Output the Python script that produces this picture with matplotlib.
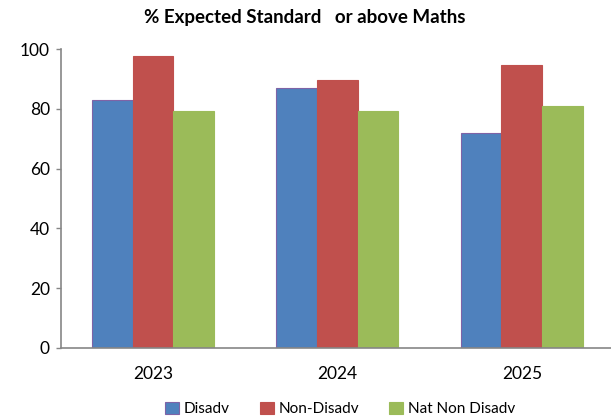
import matplotlib
matplotlib.use("Agg")
import matplotlib.pyplot as plt
import numpy as np

categories = ["2023", "2024", "2025"]
series_names = ["Disadv", "Non-Disadv", "Nat Non Disadv"]
disadv = [83.1, 87.1, 72.0]
non_disadv = [97.6, 89.6, 94.7]
nat_non_disadv = [79.1, 79.1, 80.8]
yticks = [0, 20, 40, 60, 80, 100]

colors = ["#4F81BD", "#C0504D", "#9BBB59"]
edges = ["#7F63A6", "#C0504D", "#9BBB59"]

plt.rcParams['font.family'] = ['Lato', 'DejaVu Sans']

fig = plt.figure(figsize=(6.11, 4.18), dpi=100)
W, H = 611, 418
left, right, top, bottom = 60.7, 614, 49, 348
ax = fig.add_axes([left / W, 1 - bottom / H, (right - left) / W, (bottom - top) / H])

x = np.arange(len(categories))
bw = 0.22
for i, (vals, name) in enumerate(zip([disadv, non_disadv, nat_non_disadv], series_names)):
    ax.bar(x + (i - 1) * bw, vals, width=bw, color=colors[i], edgecolor=edges[i],
           linewidth=0.8, label=name, zorder=2)

ax.set_xlim(-0.5, 2.5)
ax.set_ylim(0, 100)
ax.set_yticks(yticks)
ax.set_xticks(x)
ax.set_xticklabels(categories)
ax.tick_params(axis='x', length=0, pad=13, labelsize=12.5, colors='#000000')
ax.tick_params(axis='y', length=3.8, width=1, pad=4, labelsize=12.5, color='#868686', labelcolor='#000000')
for s in ['top', 'right']:
    ax.spines[s].set_visible(False)
for s in ['left', 'bottom']:
    ax.spines[s].set_color('#868686')
    ax.spines[s].set_linewidth(1.2)

fig.text(305 / W, 1 - 18 / H, "% Expected Standard   or above Maths", ha='center', va='center',
         fontsize=13.5, fontweight='bold')

leg = fig.legend(loc='center', bbox_to_anchor=(340 / W, 1 - 409 / H), ncol=3, frameon=False,
                 fontsize=11, handlelength=0.9, handleheight=0.9, handletextpad=0.3,
                 columnspacing=2.0, borderaxespad=0)

fig.savefig("out.png", dpi=100)
